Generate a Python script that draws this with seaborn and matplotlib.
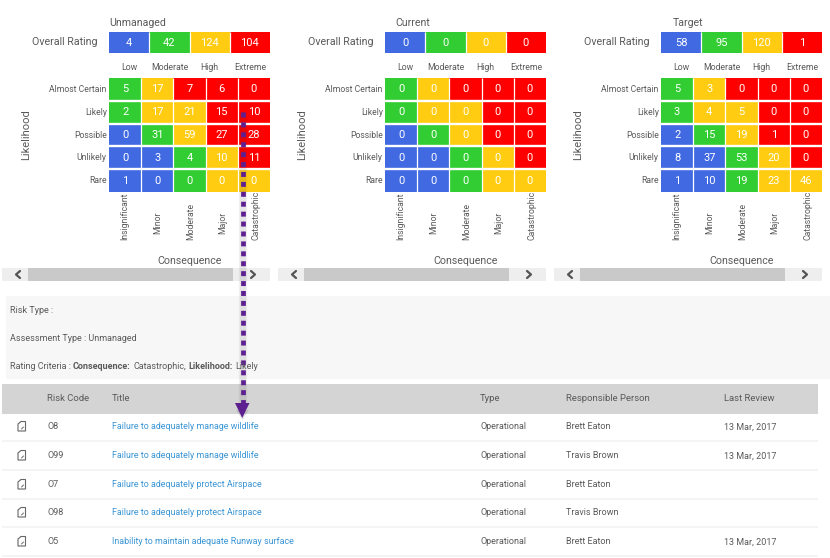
import numpy as np
import seaborn as sns
import matplotlib
matplotlib.use("Agg")
import matplotlib.pyplot as plt
from matplotlib.colors import ListedColormap
from matplotlib.patches import Polygon, Rectangle

# Data
panels = ["Unmanaged", "Current", "Target"]
rating_names = ["Low", "Moderate", "High", "Extreme"]
likelihood = ["Almost Certain", "Likely", "Possible", "Unlikely", "Rare"]
consequence = ["Insignificant", "Minor", "Moderate", "Major", "Catastrophic"]

overall_unmanaged = [4, 42, 124, 104]
overall_current = [0, 0, 0, 0]
overall_target = [58, 95, 120, 1]

counts_unmanaged = [[5, 17, 7, 6, 0],
                    [2, 17, 21, 15, 10],
                    [0, 31, 59, 27, 28],
                    [0, 3, 4, 10, 11],
                    [1, 0, 0, 0, 0]]
counts_current = [[0, 0, 0, 0, 0],
                  [0, 0, 0, 0, 0],
                  [0, 0, 0, 0, 0],
                  [0, 0, 0, 0, 0],
                  [0, 0, 0, 0, 0]]
counts_target = [[5, 3, 0, 0, 0],
                 [3, 4, 5, 0, 0],
                 [2, 15, 19, 1, 0],
                 [8, 37, 53, 20, 0],
                 [1, 10, 19, 23, 46]]

# rating of each cell: 0 low, 1 moderate, 2 high, 3 extreme
cell_rating = [[1, 2, 3, 3, 3],
               [1, 2, 2, 3, 3],
               [0, 1, 2, 3, 3],
               [0, 0, 1, 2, 3],
               [0, 0, 1, 2, 2]]

risk_codes = ["O8", "O99", "O7", "O98", "O5"]
risk_titles = ["Failure to adequately manage wildlife",
               "Failure to adequately manage wildlife",
               "Failure to adequately protect Airspace",
               "Failure to adequately protect Airspace",
               "Inability to maintain adequate Runway surface"]
risk_types = ["Operational"] * 5
risk_people = ["Brett Eaton", "Travis Brown", "Brett Eaton", "Travis Brown", "Brett Eaton"]
risk_reviews = ["13 Mar, 2017", "13 Mar, 2017", "", "", "13 Mar, 2017"]

W, H = 830, 558
sns.set_theme(style="white")
plt.rcParams["font.family"] = ["Roboto", "DejaVu Sans"]
rating_cmap = ListedColormap(["#4169e1", "#32cd32", "#ffcc11", "#ff0000"])
GREY = "#5a5a5a"


def px_axes(x0, y0, x1, y1):
    return fig.add_axes([x0 / W, 1 - y1 / H, (x1 - x0) / W, (y1 - y0) / H])


fig = plt.figure(figsize=(W / 100, H / 100), dpi=100, facecolor="white")

# whole-figure layer in pixel coordinates for the page furniture
page = fig.add_axes([0, 0, 1, 1], zorder=5)
page.set_xlim(0, W)
page.set_ylim(H, 0)
page.axis("off")
page.patch.set_alpha(0)


def label(x, y, s, size=6.5, color=GREY, **kw):
    kw.setdefault("va", "center")
    page.text(x, y + 0.7, s, fontsize=size, color=color, **kw)


panel_left = [109, 385, 661]
title_x = [109, 395, 673]
overall = [overall_unmanaged, overall_current, overall_target]
counts = [counts_unmanaged, counts_current, counts_target]
label_bottom = [239, 233, 239, 233, 239]

for i, name in enumerate(panels):
    x0 = panel_left[i]
    x1 = x0 + 161

    # overall rating strip
    ax = px_axes(x0, 32, x1, 53)
    sns.heatmap(np.arange(4).reshape(1, 4), ax=ax, cmap=rating_cmap, vmin=-0.5, vmax=3.5,
                annot=np.array([overall[i]]), fmt="d", cbar=False, linewidths=0,
                annot_kws={"color": "white", "fontsize": 8},
                xticklabels=rating_names, yticklabels=False)
    ax.vlines([1, 2, 3], 0, 1, color="white", lw=0.9)
    ax.tick_params(axis="x", length=0, pad=7.4, labelsize=6.3, labelcolor=GREY, rotation=0)

    # risk matrix
    ax = px_axes(x0, 78, x1, 192)
    sns.heatmap(np.array(cell_rating), ax=ax, cmap=rating_cmap, vmin=-0.5, vmax=3.5,
                annot=np.array(counts[i]), fmt="d", cbar=False, linewidths=0,
                annot_kws={"color": "white", "fontsize": 8},
                xticklabels=False, yticklabels=likelihood)
    ax.hlines([1, 2, 3, 4], 0, 5, color="white", lw=1.7)
    ax.vlines([1, 2, 3, 4], 0, 5, color="white", lw=0.9)
    ax.tick_params(axis="y", length=0, pad=1.6, labelsize=6.2, labelcolor=GREY, rotation=0)

    # text around the matrix
    label(title_x[i], 22.5, name, size=7.6, ha="left")
    label(x0 - 12, 41.5, "Overall Rating", size=7.7, ha="right")
    label(x0 - 83, 134, "Likelihood", size=8, rotation=90, ha="center")
    label(x0 + 81, 260.5, "Consequence", size=7.7, ha="center")
    for j, c in enumerate(consequence):
        label(x0 + 16 + j * 32.7, label_bottom[j], c, rotation=90, ha="center", va="bottom", size=6.2)

    # scroll bar under each panel
    page.add_patch(Rectangle((x0 - 107, 268), 268, 13, color="#eeeeee", lw=0))
    page.add_patch(Rectangle((x0 - 81, 268), 205, 13, color="#c9c9c9", lw=0))
    page.plot([x0 - 89, x0 - 93, x0 - 89], [271, 274.5, 278], color="#555555", lw=1.6)
    page.plot([x0 + 142, x0 + 146, x0 + 142], [271, 274.5, 278], color="#555555", lw=1.6)

# info block
page.add_patch(Rectangle((6, 296), 824, 83, color="#f7f7f7", lw=0))
label(10, 310, "Risk Type :")
label(10, 338, "Assessment Type : Unmanaged")
label(10, 366, "Rating Criteria :")
label(73, 366, "Consequence:", fontweight="bold")
label(133, 366, "Catastrophic,")
label(188, 366, "Likelihood:", fontweight="bold")
label(235, 366, "Likely")

# risk table
page.add_patch(Rectangle((2, 384), 816, 30, color="#d4d4d4", lw=0))
for x, s in zip([47, 112, 480, 566, 724], ["Risk Code", "Title", "Type", "Responsible Person", "Last Review"]):
    label(x, 398, s, size=6.8)

row_y = [426, 455, 484, 512, 541]
for k, y in enumerate(row_y):
    page.add_patch(Rectangle((2, y + 14), 816, 2, color="#f4f4f4", lw=0))
    page.add_patch(Polygon([[18, y + 5], [18, y - 2], [21, y - 4.5], [25.5, y - 4.5], [25.5, y + 5]],
                           fill=False, edgecolor="#666666", lw=0.8))
    page.plot([21.5, 23.5], [y + 3, y + 1], color="#666666", lw=0.7)
    label(47, y, risk_codes[k])
    label(112, y, risk_titles[k], size=6.4, color="#3a95d5")
    label(480, y, risk_types[k])
    label(566, y, risk_people[k])
    label(724, y, risk_reviews[k])

# dotted arrow from the selected cell to the table
for lw, alpha in [(6, 0.05), (4.6, 0.07)]:
    page.plot([243, 243], [112, 404], color="#333333", lw=lw, alpha=alpha, solid_capstyle="butt")
page.plot([242.5, 242.5], [112, 404], color="#5e1f91", lw=3.4, linestyle=(0, (1.05, 1.05)), dash_capstyle="butt")
page.add_patch(Polygon([[236, 410], [249, 410], [242.5, 420]], color="#333333", alpha=0.15, lw=0))
page.add_patch(Polygon([[235, 403], [249.5, 403], [242.2, 418]], color="#5e1f91", lw=0))

fig.savefig("out.png", dpi=100)
